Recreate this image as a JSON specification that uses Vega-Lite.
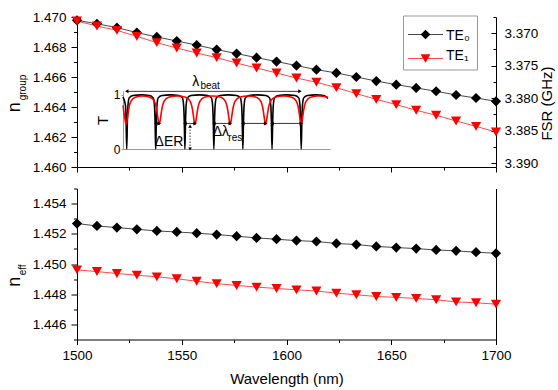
{
  "$schema": "https://vega.github.io/schema/vega-lite/v6.json",
  "background": "white",
  "padding": {"left": 5, "top": 10, "right": 2, "bottom": 2},
  "spacing": 13.5,
  "datasets": {
    "main": [
      {"wl": 1500, "mode": "TE0", "ng": 1.46978, "neff": 1.45268},
      {"wl": 1509.52, "mode": "TE0", "ng": 1.46955, "neff": 1.45252},
      {"wl": 1519.05, "mode": "TE0", "ng": 1.46929, "neff": 1.45241},
      {"wl": 1528.57, "mode": "TE0", "ng": 1.46896, "neff": 1.4523},
      {"wl": 1538.10, "mode": "TE0", "ng": 1.46867, "neff": 1.45219},
      {"wl": 1547.62, "mode": "TE0", "ng": 1.4684, "neff": 1.45212},
      {"wl": 1557.14, "mode": "TE0", "ng": 1.46813, "neff": 1.45204},
      {"wl": 1566.67, "mode": "TE0", "ng": 1.46783, "neff": 1.45195},
      {"wl": 1576.19, "mode": "TE0", "ng": 1.46756, "neff": 1.45184},
      {"wl": 1585.71, "mode": "TE0", "ng": 1.46729, "neff": 1.45173},
      {"wl": 1595.24, "mode": "TE0", "ng": 1.46703, "neff": 1.45164},
      {"wl": 1604.76, "mode": "TE0", "ng": 1.46676, "neff": 1.45155},
      {"wl": 1614.29, "mode": "TE0", "ng": 1.46649, "neff": 1.45149},
      {"wl": 1623.81, "mode": "TE0", "ng": 1.46627, "neff": 1.45136},
      {"wl": 1633.33, "mode": "TE0", "ng": 1.466, "neff": 1.45129},
      {"wl": 1642.86, "mode": "TE0", "ng": 1.46573, "neff": 1.45116},
      {"wl": 1652.38, "mode": "TE0", "ng": 1.46549, "neff": 1.45109},
      {"wl": 1661.90, "mode": "TE0", "ng": 1.46527, "neff": 1.45102},
      {"wl": 1671.43, "mode": "TE0", "ng": 1.46505, "neff": 1.45093},
      {"wl": 1680.95, "mode": "TE0", "ng": 1.4648, "neff": 1.45087},
      {"wl": 1690.48, "mode": "TE0", "ng": 1.4646, "neff": 1.45078},
      {"wl": 1700, "mode": "TE0", "ng": 1.46438, "neff": 1.45071},
      {"wl": 1500, "mode": "TE1", "ng": 1.46973, "neff": 1.44961},
      {"wl": 1509.52, "mode": "TE1", "ng": 1.4694, "neff": 1.4495},
      {"wl": 1519.05, "mode": "TE1", "ng": 1.46911, "neff": 1.44937},
      {"wl": 1528.57, "mode": "TE1", "ng": 1.46871, "neff": 1.44926},
      {"wl": 1538.10, "mode": "TE1", "ng": 1.46829, "neff": 1.44915},
      {"wl": 1547.62, "mode": "TE1", "ng": 1.46793, "neff": 1.44902},
      {"wl": 1557.14, "mode": "TE1", "ng": 1.4676, "neff": 1.44886},
      {"wl": 1566.67, "mode": "TE1", "ng": 1.46729, "neff": 1.4487},
      {"wl": 1576.19, "mode": "TE1", "ng": 1.46693, "neff": 1.44858},
      {"wl": 1585.71, "mode": "TE1", "ng": 1.4666, "neff": 1.44847},
      {"wl": 1595.24, "mode": "TE1", "ng": 1.46627, "neff": 1.44838},
      {"wl": 1604.76, "mode": "TE1", "ng": 1.46593, "neff": 1.44829},
      {"wl": 1614.29, "mode": "TE1", "ng": 1.46565, "neff": 1.44821},
      {"wl": 1623.81, "mode": "TE1", "ng": 1.46529, "neff": 1.44807},
      {"wl": 1633.33, "mode": "TE1", "ng": 1.46489, "neff": 1.44796},
      {"wl": 1642.86, "mode": "TE1", "ng": 1.46451, "neff": 1.44785},
      {"wl": 1652.38, "mode": "TE1", "ng": 1.46416, "neff": 1.44779},
      {"wl": 1661.90, "mode": "TE1", "ng": 1.46378, "neff": 1.44772},
      {"wl": 1671.43, "mode": "TE1", "ng": 1.46345, "neff": 1.44763},
      {"wl": 1680.95, "mode": "TE1", "ng": 1.46307, "neff": 1.44749},
      {"wl": 1690.48, "mode": "TE1", "ng": 1.46271, "neff": 1.44743},
      {"wl": 1700, "mode": "TE1", "ng": 1.46233, "neff": 1.44734}
    ],
    "modes": [{"mode": "TE0"}, {"mode": "TE1"}],
    "fsr": [{"fsr": 3.3675}, {"fsr": 3.3906}],
    "ylab_top": [{"main": "n", "sub": "group"}],
    "ylab_bot": [{"main": "n", "sub": "eff"}],
    "spectrum": [
      {"mode": "TE0", "u": 0, "T": 0.96},
      {"mode": "TE0", "u": 1.2, "T": 0.8},
      {"mode": "TE0", "u": 1.5, "T": 0.5},
      {"mode": "TE0", "u": 1.8, "T": 0},
      {"mode": "TE0", "u": 2.1, "T": 0.5},
      {"mode": "TE0", "u": 2.4, "T": 0.8},
      {"mode": "TE0", "u": 3.0, "T": 0.94},
      {"mode": "TE0", "u": 4.8, "T": 0.985},
      {"mode": "TE0", "u": 8.8, "T": 0.995},
      {"mode": "TE0", "u": 12.8, "T": 0.985},
      {"mode": "TE0", "u": 14.6, "T": 0.94},
      {"mode": "TE0", "u": 15.2, "T": 0.8},
      {"mode": "TE0", "u": 15.5, "T": 0.5},
      {"mode": "TE0", "u": 15.8, "T": 0},
      {"mode": "TE0", "u": 16.1, "T": 0.5},
      {"mode": "TE0", "u": 16.4, "T": 0.8},
      {"mode": "TE0", "u": 17.0, "T": 0.94},
      {"mode": "TE0", "u": 18.8, "T": 0.985},
      {"mode": "TE0", "u": 22.85, "T": 0.995},
      {"mode": "TE0", "u": 26.9, "T": 0.985},
      {"mode": "TE0", "u": 28.7, "T": 0.94},
      {"mode": "TE0", "u": 29.3, "T": 0.8},
      {"mode": "TE0", "u": 29.6, "T": 0.5},
      {"mode": "TE0", "u": 29.9, "T": 0},
      {"mode": "TE0", "u": 30.2, "T": 0.5},
      {"mode": "TE0", "u": 30.5, "T": 0.8},
      {"mode": "TE0", "u": 31.1, "T": 0.94},
      {"mode": "TE0", "u": 32.9, "T": 0.985},
      {"mode": "TE0", "u": 36.9, "T": 0.995},
      {"mode": "TE0", "u": 40.9, "T": 0.985},
      {"mode": "TE0", "u": 42.7, "T": 0.94},
      {"mode": "TE0", "u": 43.3, "T": 0.8},
      {"mode": "TE0", "u": 43.6, "T": 0.5},
      {"mode": "TE0", "u": 43.9, "T": 0},
      {"mode": "TE0", "u": 44.2, "T": 0.5},
      {"mode": "TE0", "u": 44.5, "T": 0.8},
      {"mode": "TE0", "u": 45.1, "T": 0.94},
      {"mode": "TE0", "u": 46.9, "T": 0.985},
      {"mode": "TE0", "u": 50.9, "T": 0.995},
      {"mode": "TE0", "u": 54.9, "T": 0.985},
      {"mode": "TE0", "u": 56.7, "T": 0.94},
      {"mode": "TE0", "u": 57.3, "T": 0.8},
      {"mode": "TE0", "u": 57.6, "T": 0.5},
      {"mode": "TE0", "u": 57.9, "T": 0},
      {"mode": "TE0", "u": 58.2, "T": 0.5},
      {"mode": "TE0", "u": 58.5, "T": 0.8},
      {"mode": "TE0", "u": 59.1, "T": 0.94},
      {"mode": "TE0", "u": 60.9, "T": 0.985},
      {"mode": "TE0", "u": 64.95, "T": 0.995},
      {"mode": "TE0", "u": 69.0, "T": 0.985},
      {"mode": "TE0", "u": 70.8, "T": 0.94},
      {"mode": "TE0", "u": 71.4, "T": 0.8},
      {"mode": "TE0", "u": 71.7, "T": 0.5},
      {"mode": "TE0", "u": 72.0, "T": 0},
      {"mode": "TE0", "u": 72.3, "T": 0.5},
      {"mode": "TE0", "u": 72.6, "T": 0.8},
      {"mode": "TE0", "u": 73.2, "T": 0.94},
      {"mode": "TE0", "u": 75.0, "T": 0.985},
      {"mode": "TE0", "u": 79.05, "T": 0.995},
      {"mode": "TE0", "u": 83.1, "T": 0.985},
      {"mode": "TE0", "u": 84.9, "T": 0.94},
      {"mode": "TE0", "u": 85.5, "T": 0.8},
      {"mode": "TE0", "u": 85.8, "T": 0.5},
      {"mode": "TE0", "u": 86.1, "T": 0},
      {"mode": "TE0", "u": 86.4, "T": 0.5},
      {"mode": "TE0", "u": 86.7, "T": 0.8},
      {"mode": "TE0", "u": 87.3, "T": 0.94},
      {"mode": "TE0", "u": 89.1, "T": 0.985},
      {"mode": "TE0", "u": 93.1, "T": 0.995},
      {"mode": "TE0", "u": 97.1, "T": 0.985},
      {"mode": "TE0", "u": 99.0, "T": 0.93},
      {"mode": "TE1", "u": 0, "T": 0.8},
      {"mode": "TE1", "u": 0.9, "T": 0.56},
      {"mode": "TE1", "u": 1.5, "T": 0.45},
      {"mode": "TE1", "u": 2.1, "T": 0.56},
      {"mode": "TE1", "u": 2.7, "T": 0.72},
      {"mode": "TE1", "u": 3.9, "T": 0.88},
      {"mode": "TE1", "u": 6.0, "T": 0.95},
      {"mode": "TE1", "u": 9.5, "T": 0.975},
      {"mode": "TE1", "u": 13.0, "T": 0.95},
      {"mode": "TE1", "u": 15.1, "T": 0.88},
      {"mode": "TE1", "u": 16.3, "T": 0.72},
      {"mode": "TE1", "u": 16.9, "T": 0.56},
      {"mode": "TE1", "u": 17.5, "T": 0.45},
      {"mode": "TE1", "u": 18.1, "T": 0.56},
      {"mode": "TE1", "u": 18.7, "T": 0.72},
      {"mode": "TE1", "u": 19.9, "T": 0.88},
      {"mode": "TE1", "u": 22.0, "T": 0.95},
      {"mode": "TE1", "u": 26.15, "T": 0.975},
      {"mode": "TE1", "u": 30.3, "T": 0.95},
      {"mode": "TE1", "u": 32.4, "T": 0.88},
      {"mode": "TE1", "u": 33.6, "T": 0.72},
      {"mode": "TE1", "u": 34.2, "T": 0.56},
      {"mode": "TE1", "u": 34.8, "T": 0.45},
      {"mode": "TE1", "u": 35.4, "T": 0.56},
      {"mode": "TE1", "u": 36.0, "T": 0.72},
      {"mode": "TE1", "u": 37.2, "T": 0.88},
      {"mode": "TE1", "u": 39.3, "T": 0.95},
      {"mode": "TE1", "u": 43.3, "T": 0.975},
      {"mode": "TE1", "u": 47.3, "T": 0.95},
      {"mode": "TE1", "u": 49.4, "T": 0.88},
      {"mode": "TE1", "u": 50.6, "T": 0.72},
      {"mode": "TE1", "u": 51.2, "T": 0.56},
      {"mode": "TE1", "u": 51.8, "T": 0.45},
      {"mode": "TE1", "u": 52.4, "T": 0.56},
      {"mode": "TE1", "u": 53.0, "T": 0.72},
      {"mode": "TE1", "u": 54.2, "T": 0.88},
      {"mode": "TE1", "u": 56.3, "T": 0.95},
      {"mode": "TE1", "u": 60.35, "T": 0.975},
      {"mode": "TE1", "u": 64.4, "T": 0.95},
      {"mode": "TE1", "u": 66.5, "T": 0.88},
      {"mode": "TE1", "u": 67.7, "T": 0.72},
      {"mode": "TE1", "u": 68.3, "T": 0.56},
      {"mode": "TE1", "u": 68.9, "T": 0.45},
      {"mode": "TE1", "u": 69.5, "T": 0.56},
      {"mode": "TE1", "u": 70.1, "T": 0.72},
      {"mode": "TE1", "u": 71.3, "T": 0.88},
      {"mode": "TE1", "u": 73.4, "T": 0.95},
      {"mode": "TE1", "u": 77.5, "T": 0.975},
      {"mode": "TE1", "u": 81.6, "T": 0.95},
      {"mode": "TE1", "u": 83.7, "T": 0.88},
      {"mode": "TE1", "u": 84.9, "T": 0.72},
      {"mode": "TE1", "u": 85.5, "T": 0.56},
      {"mode": "TE1", "u": 86.1, "T": 0.45},
      {"mode": "TE1", "u": 86.7, "T": 0.56},
      {"mode": "TE1", "u": 87.3, "T": 0.72},
      {"mode": "TE1", "u": 88.5, "T": 0.88},
      {"mode": "TE1", "u": 90.6, "T": 0.95},
      {"mode": "TE1", "u": 94.6, "T": 0.975},
      {"mode": "TE1", "u": 99.0, "T": 0.95}
    ],
    "inset_text": [
      {"u": 35.2, "T": 1.158, "txt": "λ"},
      {"u": 22.2, "T": 0.046, "txt": "ΔER"},
      {"u": 47.3, "T": 0.239, "txt": "Δλ"}
    ],
    "inset_sub": [
      {"u": 37.4, "T": 1.1, "txt": "beat"},
      {"u": 50.9, "T": 0.15, "txt": "res"}
    ],
    "dims": [
      {"u1": 1.8, "u2": 85.5, "T": 1.06},
      {"u1": 15.8, "u2": 17.5, "T": 0.47},
      {"u1": 29.9, "u2": 34.8, "T": 0.47},
      {"u1": 43.9, "u2": 51.8, "T": 0.47},
      {"u1": 57.9, "u2": 68.9, "T": 0.47},
      {"u1": 72.0, "u2": 86.1, "T": 0.47}
    ],
    "er": [{"u": 32.4, "T1": 0.0, "T2": 0.42}],
    "heads": [
      {"u": 1.8, "T": 1.06, "dir": "left"},
      {"u": 85.5, "T": 1.06, "dir": "right"},
      {"u": 15.8, "T": 0.47, "dir": "left"},
      {"u": 17.5, "T": 0.47, "dir": "right"},
      {"u": 29.9, "T": 0.47, "dir": "left"},
      {"u": 34.8, "T": 0.47, "dir": "right"},
      {"u": 43.9, "T": 0.47, "dir": "left"},
      {"u": 51.8, "T": 0.47, "dir": "right"},
      {"u": 57.9, "T": 0.47, "dir": "left"},
      {"u": 68.9, "T": 0.47, "dir": "right"},
      {"u": 72.0, "T": 0.47, "dir": "left"},
      {"u": 86.1, "T": 0.47, "dir": "right"},
      {"u": 32.4, "T": 0.42, "dir": "up"},
      {"u": 32.4, "T": 0.0, "dir": "down"}
    ]
  },
  "vconcat": [
    {
      "width": 419,
      "height": 150,
      "layer": [
        {
          "layer": [
            {
              "data": {"name": "main"},
              "mark": {"type": "line", "strokeWidth": 0.9, "opacity": 0.8},
              "encoding": {
                "x": {
                  "field": "wl", "type": "quantitative",
                  "scale": {"domain": [1500, 1700], "nice": false, "zero": false},
                  "axis": {"orient": "bottom", "title": null, "labels": false, "values": [1500, 1550, 1600, 1650, 1700], "tickSize": 5}
                },
                "y": {
                  "field": "ng", "type": "quantitative",
                  "scale": {"domain": [1.46, 1.47], "nice": false, "zero": false},
                  "axis": {"orient": "left", "title": null, "values": [1.46, 1.464, 1.468], "format": ".3f", "tickSize": 6, "labelPadding": 5}
                },
                "color": {
                  "field": "mode", "type": "nominal",
                  "scale": {"domain": ["TE0", "TE1"], "range": ["#000000", "#ff0000"]},
                  "legend": {
                    "orient": "none", "legendX": 326, "legendY": -1.5, "title": null,
                    "symbolSize": 576, "symbolOpacity": 0, "labelOffset": 10, "padding": 7, "rowPadding": 0,
                    "strokeColor": "#999999", "labelFontSize": 14, "labelFont": "Liberation Sans", "labelColor": "#000000",
                    "labelExpr": "datum.value === 'TE0' ? 'TE₀' : 'TE₁'"
                  }
                }
              }
            },
            {
              "data": {"name": "main"},
              "mark": {"type": "point", "filled": true, "size": 105, "opacity": 1},
              "encoding": {
                "x": {"field": "wl", "type": "quantitative"},
                "y": {"field": "ng", "type": "quantitative"},
                "color": {"field": "mode", "type": "nominal", "legend": null},
                "shape": {"condition": {"test": "datum.mode === 'TE0'", "value": "diamond"}, "value": "triangle-down"}
              }
            }
          ]
        },
        {
          "data": {"name": "main"},
          "mark": {"type": "point", "opacity": 0},
          "encoding": {
            "y": {
              "field": "ng", "type": "quantitative",
              "scale": {"domain": [1.46, 1.47], "nice": false, "zero": false},
              "axis": {"orient": "left", "title": null, "domain": false, "values": [1.462, 1.466, 1.47], "format": ".3f", "tickSize": 6, "labelPadding": 5}
            }
          }
        },
        {
          "layer": [
            {
              "data": {"name": "ylab_top"},
              "mark": {"type": "text", "angle": 270, "align": "left", "baseline": "alphabetic", "fontSize": 18, "dx": -20.3, "dy": -57.5, "color": "#000000"},
              "encoding": {
                "x": {"datum": 1500, "type": "quantitative", "scale": {"domain": [1500, 1700], "nice": false, "zero": false}, "axis": null},
                "y": {"datum": 1.465, "type": "quantitative", "scale": {"domain": [1.46, 1.47], "nice": false, "zero": false}, "axis": null},
                "text": {"field": "main"}
              }
            },
            {
              "data": {"name": "ylab_top"},
              "mark": {"type": "text", "angle": 270, "align": "left", "baseline": "alphabetic", "fontSize": 10, "dx": -8.3, "dy": -51.5, "color": "#000000"},
              "encoding": {
                "x": {"datum": 1500, "type": "quantitative"},
                "y": {"datum": 1.465, "type": "quantitative"},
                "text": {"field": "sub"}
              }
            }
          ]
        },
        {
          "data": {"name": "main"},
          "mark": {"type": "point", "opacity": 0},
          "encoding": {
            "x": {
              "field": "wl", "type": "quantitative",
              "scale": {"domain": [1500, 1700], "nice": false, "zero": false},
              "axis": {"orient": "bottom", "values": [1525, 1575, 1625, 1675], "labels": false, "domain": false, "tickSize": 3, "title": null}
            },
            "y": {
              "field": "ng", "type": "quantitative",
              "scale": {"domain": [1.46, 1.47], "nice": false, "zero": false},
              "axis": {"orient": "left", "values": [1.461, 1.463, 1.465, 1.467, 1.469], "labels": false, "domain": false, "tickSize": 3.5, "title": null}
            }
          }
        },
        {
          "data": {"name": "fsr"},
          "mark": {"type": "rule", "opacity": 0},
          "encoding": {
            "y": {
              "field": "fsr", "type": "quantitative",
              "scale": {"domain": [3.3675, 3.3906], "reverse": true, "nice": false, "zero": false},
              "axis": {
                "orient": "right", "title": "FSR (GHz)",
                "values": [3.37, 3.375, 3.38, 3.385, 3.39],
                "format": ".3f", "tickSize": -5, "labelPadding": 13,
                "titleAngle": 270, "titleBaseline": "top", "titlePadding": 2, "titleY": 86
              }
            }
          }
        },
        {
          "data": {"name": "fsr"},
          "mark": {"type": "rule", "opacity": 0},
          "encoding": {
            "y": {
              "field": "fsr", "type": "quantitative",
              "scale": {"domain": [3.3675, 3.3906], "reverse": true, "nice": false, "zero": false},
              "axis": {"orient": "right", "title": null, "labels": false, "domain": false, "values": [3.3675, 3.3725, 3.3775, 3.3825, 3.3875], "tickSize": -3}
            }
          }
        },
        {
          "layer": [
            {
              "data": {"name": "modes"},
              "mark": {"type": "rule", "strokeWidth": 0.9, "opacity": 0.8},
              "encoding": {
                "x": {"datum": 0, "type": "quantitative", "scale": {"domain": [0, 1], "range": [331, 366], "nice": false, "zero": false}, "axis": null},
                "x2": {"datum": 1},
                "y": {"field": "mode", "type": "nominal", "scale": {"type": "point", "domain": ["TE0", "TE1"], "range": [17.5, 41.5], "padding": 0}, "axis": null},
                "color": {"field": "mode", "type": "nominal", "legend": null}
              }
            },
            {
              "data": {"name": "modes"},
              "mark": {"type": "point", "filled": true, "size": 95, "opacity": 1},
              "encoding": {
                "x": {"datum": 0.5, "type": "quantitative"},
                "y": {"field": "mode", "type": "nominal"},
                "color": {"field": "mode", "type": "nominal", "legend": null},
                "shape": {"condition": {"test": "datum.mode === 'TE0'", "value": "diamond"}, "value": "triangle-down"}
              }
            }
          ]
        },
        {
          "layer": [
            {
              "data": {"name": "spectrum"},
              "mark": {"type": "line", "strokeWidth": 1.6, "interpolate": "monotone"},
              "encoding": {
                "x": {
                  "field": "u", "type": "quantitative",
                  "scale": {"domain": [0, 100], "range": [46, 253], "nice": false, "zero": false},
                  "axis": {"orient": "bottom", "offset": -18, "labels": false, "ticks": false, "title": null, "domainColor": "#999999"}
                },
                "y": {
                  "field": "T", "type": "quantitative",
                  "scale": {"domain": [0, 1.07], "range": [132, 73.8], "nice": false, "zero": false},
                  "axis": {
                    "orient": "left", "offset": -46, "values": [0, 1], "format": "d",
                    "tickSize": 2, "labelPadding": 1, "domainColor": "#999999", "tickColor": "#999999",
                    "labelFontSize": 12, "title": "T", "titleFontSize": 15, "titlePadding": 3
                  }
                },
                "color": {"field": "mode", "type": "nominal", "legend": null}
              }
            },
            {
              "data": {"name": "dims"},
              "mark": {"type": "rule", "color": "#000000", "strokeWidth": 0.8},
              "encoding": {
                "x": {"field": "u1", "type": "quantitative"},
                "x2": {"field": "u2"},
                "y": {"field": "T", "type": "quantitative"}
              }
            },
            {
              "data": {"name": "er"},
              "mark": {"type": "rule", "color": "#000000", "strokeWidth": 0.8, "strokeDash": [1.5, 1.5]},
              "encoding": {
                "x": {"field": "u", "type": "quantitative"},
                "y": {"field": "T1", "type": "quantitative"},
                "y2": {"field": "T2"}
              }
            },
            {
              "data": {"name": "heads"},
              "transform": [{"filter": "datum.dir === 'left'"}],
              "mark": {"type": "point", "shape": "triangle-left", "filled": true, "size": 16, "color": "#000000", "opacity": 1},
              "encoding": {"x": {"field": "u", "type": "quantitative"}, "y": {"field": "T", "type": "quantitative"}}
            },
            {
              "data": {"name": "heads"},
              "transform": [{"filter": "datum.dir === 'right'"}],
              "mark": {"type": "point", "shape": "triangle-right", "filled": true, "size": 16, "color": "#000000", "opacity": 1},
              "encoding": {"x": {"field": "u", "type": "quantitative"}, "y": {"field": "T", "type": "quantitative"}}
            },
            {
              "data": {"name": "heads"},
              "transform": [{"filter": "datum.dir === 'up'"}],
              "mark": {"type": "point", "shape": "triangle-up", "filled": true, "size": 14, "color": "#000000", "opacity": 1},
              "encoding": {"x": {"field": "u", "type": "quantitative"}, "y": {"field": "T", "type": "quantitative"}}
            },
            {
              "data": {"name": "heads"},
              "transform": [{"filter": "datum.dir === 'down'"}],
              "mark": {"type": "point", "shape": "triangle-down", "filled": true, "size": 14, "color": "#000000", "opacity": 1},
              "encoding": {"x": {"field": "u", "type": "quantitative"}, "y": {"field": "T", "type": "quantitative"}}
            },
            {
              "data": {"name": "inset_text"},
              "mark": {"type": "text", "align": "center", "baseline": "alphabetic", "fontSize": 14, "color": "#000000"},
              "encoding": {
                "x": {"field": "u", "type": "quantitative"},
                "y": {"field": "T", "type": "quantitative"},
                "text": {"field": "txt"}
              }
            },
            {
              "data": {"name": "inset_sub"},
              "mark": {"type": "text", "align": "left", "baseline": "alphabetic", "fontSize": 10, "color": "#000000"},
              "encoding": {
                "x": {"field": "u", "type": "quantitative"},
                "y": {"field": "T", "type": "quantitative"},
                "text": {"field": "txt"}
              }
            }
          ]
        }
      ],
      "resolve": {
        "scale": {"x": "independent", "y": "independent"},
        "axis": {"x": "independent", "y": "independent"}
      }
    },
    {
      "width": 419,
      "height": 151,
      "layer": [
        {
          "layer": [
            {
              "data": {"name": "main"},
              "mark": {"type": "line", "strokeWidth": 0.9, "opacity": 0.8},
              "encoding": {
                "x": {
                  "field": "wl", "type": "quantitative",
                  "scale": {"domain": [1500, 1700], "nice": false, "zero": false},
                  "axis": {
                    "orient": "bottom", "title": "Wavelength (nm)",
                    "values": [1500, 1550, 1600, 1650, 1700], "format": "d",
                    "tickSize": 5, "labelPadding": 4, "titlePadding": 9
                  }
                },
                "y": {
                  "field": "neff", "type": "quantitative",
                  "scale": {"domain": [1.445, 1.455], "nice": false, "zero": false},
                  "axis": {"orient": "left", "title": null, "values": [1.446, 1.45, 1.454], "format": ".3f", "tickSize": 6, "labelPadding": 5}
                },
                "color": {
                  "field": "mode", "type": "nominal",
                  "scale": {"domain": ["TE0", "TE1"], "range": ["#000000", "#ff0000"]},
                  "legend": null
                }
              }
            },
            {
              "data": {"name": "main"},
              "mark": {"type": "point", "filled": true, "size": 105, "opacity": 1},
              "encoding": {
                "x": {"field": "wl", "type": "quantitative"},
                "y": {"field": "neff", "type": "quantitative"},
                "color": {"field": "mode", "type": "nominal", "legend": null},
                "shape": {"condition": {"test": "datum.mode === 'TE0'", "value": "diamond"}, "value": "triangle-down"}
              }
            }
          ]
        },
        {
          "data": {"name": "main"},
          "mark": {"type": "point", "opacity": 0},
          "encoding": {
            "y": {
              "field": "neff", "type": "quantitative",
              "scale": {"domain": [1.445, 1.455], "nice": false, "zero": false},
              "axis": {"orient": "left", "title": null, "domain": false, "values": [1.448, 1.452], "format": ".3f", "tickSize": 6, "labelPadding": 5}
            }
          }
        },
        {
          "layer": [
            {
              "data": {"name": "ylab_bot"},
              "mark": {"type": "text", "angle": 270, "align": "left", "baseline": "alphabetic", "fontSize": 18, "dx": -22.8, "dy": -57.5, "color": "#000000"},
              "encoding": {
                "x": {"datum": 1500, "type": "quantitative", "scale": {"domain": [1500, 1700], "nice": false, "zero": false}, "axis": null},
                "y": {"datum": 1.45, "type": "quantitative", "scale": {"domain": [1.445, 1.455], "nice": false, "zero": false}, "axis": null},
                "text": {"field": "main"}
              }
            },
            {
              "data": {"name": "ylab_bot"},
              "mark": {"type": "text", "angle": 270, "align": "left", "baseline": "alphabetic", "fontSize": 10, "dx": -11.3, "dy": -51.5, "color": "#000000"},
              "encoding": {
                "x": {"datum": 1500, "type": "quantitative"},
                "y": {"datum": 1.45, "type": "quantitative"},
                "text": {"field": "sub"}
              }
            }
          ]
        },
        {
          "data": {"name": "main"},
          "mark": {"type": "point", "opacity": 0},
          "encoding": {
            "x": {
              "field": "wl", "type": "quantitative",
              "scale": {"domain": [1500, 1700], "nice": false, "zero": false},
              "axis": {"orient": "bottom", "values": [1525, 1575, 1625, 1675], "labels": false, "domain": false, "tickSize": 3, "title": null}
            },
            "y": {
              "field": "neff", "type": "quantitative",
              "scale": {"domain": [1.445, 1.455], "nice": false, "zero": false},
              "axis": {"orient": "left", "values": [1.445, 1.447, 1.449, 1.451, 1.453, 1.455], "labels": false, "domain": false, "tickSize": 3.5, "title": null}
            }
          }
        },
        {
          "data": {"name": "main"},
          "mark": {"type": "rule", "opacity": 0},
          "encoding": {
            "y": {
              "field": "neff", "type": "quantitative",
              "scale": {"domain": [1.445, 1.455], "nice": false, "zero": false},
              "axis": {"orient": "right", "labels": false, "ticks": false, "title": null}
            }
          }
        }
      ],
      "resolve": {
        "scale": {"x": "independent", "y": "independent"},
        "axis": {"x": "independent", "y": "independent"}
      }
    }
  ],
  "resolve": {
    "scale": {"x": "independent", "y": "independent", "color": "independent", "shape": "independent"}
  },
  "config": {
    "font": "Liberation Sans",
    "view": {"stroke": null},
    "axis": {
      "grid": false,
      "domainColor": "#000000",
      "tickColor": "#000000",
      "labelColor": "#000000",
      "titleColor": "#000000",
      "labelFont": "Liberation Sans",
      "titleFont": "Liberation Sans",
      "labelFontSize": 13.5,
      "titleFontSize": 15,
      "titleFontWeight": "normal",
      "labelFlush": false,
      "labelOverlap": false,
      "domainWidth": 1,
      "tickWidth": 1
    },
    "text": {"font": "Liberation Sans"}
  }
}
